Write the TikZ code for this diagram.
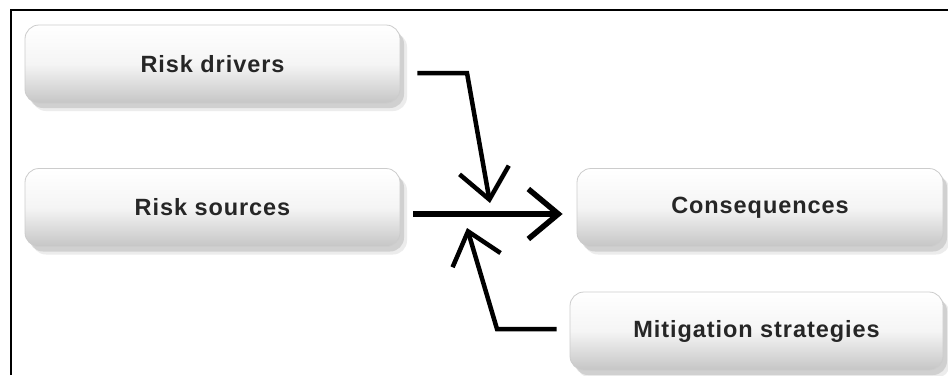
\documentclass[tikz,border=0pt]{standalone}
\usepackage{fontspec}
\setmainfont{Liberation Sans}[LetterSpace=4]
\usetikzlibrary{arrows.meta,shadows,calc}
\tikzset{
  box/.style={rounded corners=14pt, draw=gray!40, line width=0.8pt,
    top color=white, bottom color=gray!45, middle color=gray!8,
    minimum height=78pt, inner sep=0pt,
    font=\bfseries\fontsize{23.5}{26}\selectfont, text=black!85,
    drop shadow={opacity=0.15, shadow xshift=7pt, shadow yshift=-8pt},
    drop shadow={opacity=0.25, shadow xshift=4pt, shadow yshift=-5pt}},
  arr/.style={line width=4.5pt, -{Straight Barb[length=30pt,width=50pt]}},
}
\begin{document}
\begin{tikzpicture}[x=1pt,y=-1pt]
\useasboundingbox (0,0) rectangle (948,375);
\fill[white] (0,0) rectangle (948,375);
\draw[line width=2.5pt] (11,375) -- (11,10) -- (948,10);
\node[box, minimum width=375pt] (drivers) at (212.5,64) {Risk drivers};
\node[box, minimum width=375pt] (sources) at (212.5,207.5) {Risk sources};
\node[box, minimum width=366pt] (cons) at (760,207.5) {Consequences};
\node[box, minimum width=373pt] (mit) at (756.5,331) {Mitigation strategies};
\coordinate (k1) at (467,73);
\coordinate (t1) at (490,203);
\coordinate (k3) at (497,329);
\coordinate (t3) at (467,228);
\draw[arr] ($(drivers.east)+(17,9)$) -- (k1) -- (t1);
\draw[arr, line width=5.5pt] ($(sources.east)+(13,6.5)$) -- ($(cons.west)+(-14,6.5)$);
\draw[arr] ($(mit.west)+(-13,-2)$) -- (k3) -- (t3);
\end{tikzpicture}
\end{document}
